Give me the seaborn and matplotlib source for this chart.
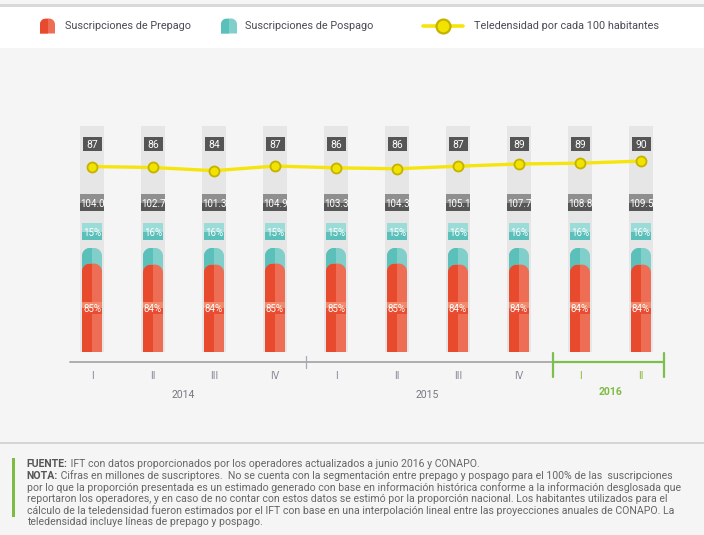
import numpy as np
import pandas as pd
import matplotlib.pyplot as plt
import seaborn as sns
from matplotlib.patches import Polygon, Rectangle

trimestres = ['I', 'II', 'III', 'IV', 'I', 'II', 'III', 'IV', 'I', 'II']
anios = ['2014'] * 4 + ['2015'] * 4 + ['2016'] * 2
prepago = [85, 84, 84, 85, 85, 85, 84, 84, 84, 84]
pospago = [15, 16, 16, 15, 15, 15, 16, 16, 16, 16]
total_millones = [104.0, 102.7, 101.3, 104.9, 103.3, 104.3, 105.1, 107.7, 108.8, 109.5]
teledensidad = [87.0, 86.4, 84.4, 87.3, 86.2, 85.6, 87.2, 88.6, 89.1, 90.4]
teledensidad_lbl = [87, 86, 84, 87, 86, 86, 87, 89, 89, 90]

df = pd.DataFrame({'periodo': [a + '-' + t for a, t in zip(anios, trimestres)],
                   'prepago': prepago, 'pospago': pospago})
df['suma'] = df['prepago'] + df['pospago']

W, H = 704, 535
BG = '#f5f5f5'
sns.set_theme(style='white')
plt.rcParams['font.family'] = ['Roboto', 'DejaVu Sans']

fig = plt.figure(figsize=(W / 100, H / 100), dpi=100, facecolor=BG)


def caja_px(x0, y0, x1, y1):
    return [x0 / W, 1 - y1 / H, (x1 - x0) / W, (y1 - y0) / H]


def barra_redonda(ax, x, y, w, h, rx, ry, claro, oscuro, z):
    t = np.linspace(0, np.pi / 2, 16)
    der = np.column_stack([x + w - rx + rx * np.cos(t), y + h - ry + ry * np.sin(t)])
    izq = np.column_stack([x + rx - rx * np.sin(t), y + h - ry + ry * np.cos(t)])
    verts = np.vstack([[[x, y], [x + w, y]], der, izq])
    forma = Polygon(verts, closed=True, fc=claro, ec='none', zorder=z)
    ax.add_patch(forma)
    mitad = Rectangle((x, y), w / 2, h, fc=oscuro, ec='none', zorder=z)
    ax.add_patch(mitad)
    mitad.set_clip_path(forma)


# fondo, banda de leyenda y notas (coordenadas en pixeles)
cap = fig.add_axes([0, 0, 1, 1], zorder=-1)
cap.set_xlim(0, W)
cap.set_ylim(H, 0)
cap.axis('off')
cap.add_patch(Rectangle((0, 3.5), W, 3, fc='#d9d9d9', ec='none'))
cap.add_patch(Rectangle((0, 6.5), W, 41, fc='white', ec='none'))
cap.plot([0, W], [443, 443], color='#cfcfcf', lw=1.2)
cap.add_patch(Rectangle((12.3, 458), 3, 58.5, fc='#7dbb42', ec='none'))

# leyenda
barra_redonda(cap, 40, 33.5, 15, -15, 6, -6, '#ee6e55', '#e84a2e', 2)
cap.text(65, 26, 'Suscripciones de Prepago', fontsize=7.8, color='#4a4a55', va='center')
barra_redonda(cap, 221, 33.5, 16, -15, 6, -6, '#80cfca', '#5bbfba', 2)
cap.text(245, 26, 'Suscripciones de Pospago', fontsize=7.8, color='#4a4a55', va='center')
cap.plot([423, 463], [26, 26], color='#f5e50c', lw=2.6)
cap.plot([443], [26], marker='o', ms=10, mfc='#f2e200', mec='#c4b200', mew=1.6)
cap.text(474, 26, 'Teledensidad por cada 100 habitantes', fontsize=7.8, color='#4a4a55', va='center')

# notas
lineas = [
    ('FUENTE:', ' IFT con datos proporcionados por los operadores actualizados a junio 2016 y CONAPO.'),
    ('NOTA:', ' Cifras en millones de suscriptores.  No se cuenta con la segmentación entre prepago y pospago para el 100% de las  suscripciones'),
    ('', 'por lo que la proporción presentada es un estimado generado con base en información histórica conforme a la información desglosada que'),
    ('', 'reportaron los operadores, y en caso de no contar con estos datos se estimó por la proporción nacional. Los habitantes utilizados para el'),
    ('', 'cálculo de la teledensidad fueron estimados por el IFT con base en una interpolación lineal entre las proyecciones anuales de CONAPO. La'),
    ('', 'teledensidad incluye líneas de prepago y pospago.'),
]
renderer = fig.canvas.get_renderer()
for k, (neg, resto) in enumerate(lineas):
    yk = 464.3 + k * 11.5
    x0 = 26.7
    if neg:
        tb = cap.text(x0, yk, neg, fontsize=7.6, fontweight='bold', color='#555555', va='center')
        bb = tb.get_window_extent(renderer)
        x0 += bb.width
    cap.text(x0, yk, resto, fontsize=7.6, color='#666666', va='center')

# grafica principal
ax = fig.add_axes(caja_px(61.5, 126, 671.5, 352))
ax.set_facecolor('none')
PX_X = 61.0
YMAX = 217.3
PX_Y = 226 / YMAX

for i in range(len(df)):
    ax.axvspan(i - 12 / PX_X, i + 12 / PX_X, color='#e6e6e6', lw=0, zorder=0)

n0 = len(ax.patches)
sns.barplot(data=df, x='periodo', y='suma', color='#80cfca', width=20 / PX_X,
            saturation=1, ax=ax)
teal = list(ax.patches[n0:])
n1 = len(ax.patches)
sns.barplot(data=df, x='periodo', y='prepago', color='#ee6e55', width=20 / PX_X,
            saturation=1, ax=ax)
rojo = list(ax.patches[n1:])

rx, ry = 8 / PX_X, 8 / PX_Y
for barras, claro, oscuro, z in [(teal, '#80cfca', '#5bbfba', 2), (rojo, '#ee6e55', '#e84a2e', 3)]:
    for b in barras:
        x, y, w, h = b.get_x(), b.get_y(), b.get_width(), b.get_height()
        b.remove()
        barra_redonda(ax, x, y, w, h, rx, ry, claro, oscuro, z)


def etiqueta(xc, yc, wpx, hpx, arriba, abajo, texto, size):
    w, h = wpx / PX_X, hpx / PX_Y
    ax.add_patch(Rectangle((xc - w / 2, yc), w, h / 2, fc=arriba, ec='none', zorder=5))
    ax.add_patch(Rectangle((xc - w / 2, yc - h / 2), w, h / 2, fc=abajo, ec='none', zorder=5))
    ax.text(xc, yc, texto, ha='center', va='center_baseline', color='white',
            fontsize=size, zorder=6)


for i in range(len(df)):
    etiqueta(i, prepago[i] / 2, 20, 12, '#f2886a', '#e94c30', f'{prepago[i]}%', 7)
    etiqueta(i, 115.4, 20, 17, '#9cdcd8', '#5bbfba', f'{pospago[i]}%', 7)
    etiqueta(i, 143.3, 24, 17, '#8f8f8f', '#575757', f'{total_millones[i]:.1f}', 7)
    etiqueta(i, 200.3, 19, 14, '#555555', '#555555', f'{teledensidad_lbl[i]}', 7.5)

ax.set_xlim(-0.5, 9.5)
ax.set_ylim(0, YMAX)
ax.set_yticks([])
ax.set_xlabel('')
ax.set_ylabel('')
for s in ax.spines.values():
    s.set_visible(False)
ax.set_xticks(range(len(df)), trimestres)
ax.tick_params(axis='x', length=0, pad=13.5, labelsize=7.5, labelcolor='#8a8a9a')
for lab in ax.get_xticklabels()[8:]:
    lab.set_color('#8dbb3a')

# eje de periodos
tr = ax.get_xaxis_transform()
ax.plot([-0.36, 7.55], [-0.044, -0.044], color='#a8a8a8', lw=1.3, transform=tr, clip_on=False)
ax.plot([3.5, 3.5], [-0.018, -0.07], color='#a8a8b8', lw=0.9, transform=tr, clip_on=False)
ax.plot([7.55, 9.37], [-0.044, -0.044], color='#7cc04b', lw=1.6, transform=tr, clip_on=False)
for xv in [7.55, 9.37]:
    ax.plot([xv, xv], [-0.004, -0.111], color='#7cc04b', lw=1.6, transform=tr, clip_on=False)
ax.text(1.5, -0.19, '2014', transform=tr, ha='center', va='center', fontsize=7.5, color='#777780')
ax.text(5.5, -0.19, '2015', transform=tr, ha='center', va='center', fontsize=7.5, color='#777780')
ax.text(8.5, -0.178, '2016', transform=tr, ha='center', va='center', fontsize=7.5,
        color='#7dbb42', fontweight='bold')

# teledensidad
ax2 = ax.twinx()
sns.lineplot(x=np.arange(len(df)), y=teledensidad, ax=ax2, color='#f5e50c', lw=2.4,
             marker='o', markersize=7.2, markerfacecolor='#f2e200',
             markeredgecolor='#c4b200', markeredgewidth=1.3, zorder=7)
bajo = 84.4 - (352 - 170.7) / 1.6
ax2.set_ylim(bajo, bajo + 226 / 1.6)
ax2.set_xlim(-0.5, 9.5)
ax2.axis('off')

fig.savefig('out.png', dpi=100, facecolor=BG)
